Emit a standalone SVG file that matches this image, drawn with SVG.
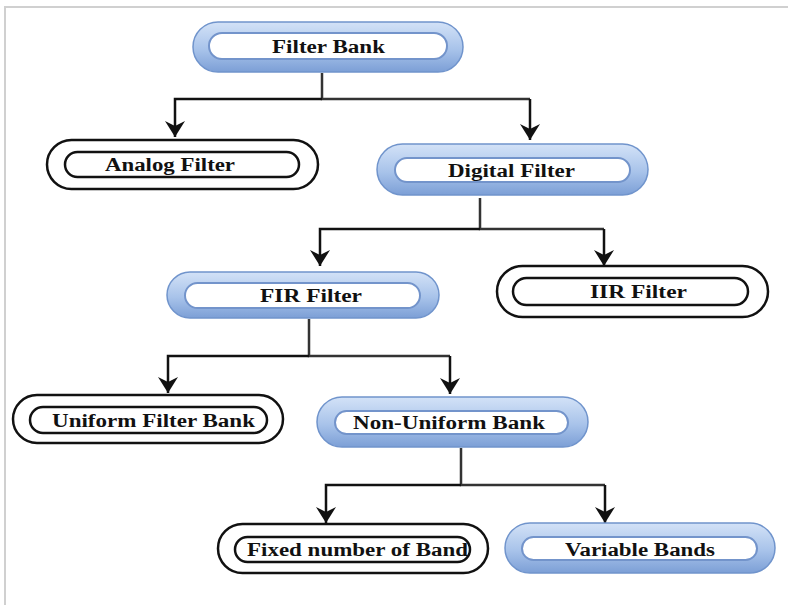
<svg xmlns="http://www.w3.org/2000/svg" width="788" height="605" viewBox="0 0 788 605">
  <defs>
    <linearGradient id="blueFill" x1="0" y1="0" x2="0" y2="1">
      <stop offset="0" stop-color="#d3e2f7"/>
      <stop offset="0.55" stop-color="#a8c3ea"/>
      <stop offset="1" stop-color="#7c9fd6"/>
    </linearGradient>
    <!-- arrowhead drawn pointing along +x so orient="auto" follows the line -->
    <marker id="arrow" markerWidth="17" markerHeight="20" refX="16" refY="10" orient="auto" markerUnits="userSpaceOnUse" viewBox="0 0 17 20">
      <path d="M16 10 L0 0 L5 10 L0 20 Z" fill="#111"/>
    </marker>
    <style>
      .frame { stroke: #d0d0d0; stroke-width: 2; fill: none; }
      .outerBlue { fill: url(#blueFill); stroke: #7094cc; stroke-width: 1.5; }
      .innerBlue { fill: #ffffff; stroke: #7394cb; stroke-width: 2; }
      .outerBlack { fill: #ffffff; stroke: #111; stroke-width: 2.5; }
      .innerBlack { fill: #ffffff; stroke: #111; stroke-width: 2.5; }
      .label { font-family: "Liberation Serif", "Times New Roman", serif; font-weight: bold; font-size: 18.5px; fill: #111; text-anchor: middle; }
      .wire { fill: none; stroke: #333; stroke-width: 2.5; }
      .drop { fill: none; stroke: #111; stroke-width: 2.5; marker-end: url(#arrow); }
    </style>
  </defs>

  <rect width="788" height="605" fill="#ffffff"/>
  <!-- page frame (top and left edges) -->
  <path class="frame" d="M5 605 V7 H788"/>

  <!-- connectors -->
  <g id="connectors">
    <path class="wire" d="M322 73 V99 H530"/>
    <path class="drop" d="M322 99 H175 V137"/>
    <path class="drop" d="M530 99 V140"/>

    <path class="wire" d="M480 198 V229 H604"/>
    <path class="drop" d="M480 229 H320 V266"/>
    <path class="drop" d="M604 229 V266"/>

    <path class="wire" d="M309 319 V356 H450"/>
    <path class="drop" d="M309 356 H168 V393"/>
    <path class="drop" d="M450 356 V394"/>

    <path class="wire" d="M461 448 V485 H605"/>
    <path class="drop" d="M461 485 H326 V523"/>
    <path class="drop" d="M605 485 V523"/>
  </g>

  <!-- nodes -->
  <g id="filter-bank">
    <rect class="outerBlue" x="193" y="22" width="270" height="50" rx="25"/>
    <rect class="innerBlue" x="209" y="33" width="238" height="26" rx="13"/>
    <text class="label" x="328.5" y="53" textLength="113" lengthAdjust="spacingAndGlyphs">Filter Bank</text>
  </g>

  <g id="analog-filter">
    <rect class="outerBlack" x="47" y="140" width="271" height="49" rx="24.5"/>
    <rect class="innerBlack" x="65" y="152" width="234" height="25" rx="12.5"/>
    <text class="label" x="170" y="171" textLength="130" lengthAdjust="spacingAndGlyphs">Analog Filter</text>
  </g>

  <g id="digital-filter">
    <rect class="outerBlue" x="377" y="144" width="271" height="51" rx="25.5"/>
    <rect class="innerBlue" x="395" y="158" width="235" height="24" rx="12"/>
    <text class="label" x="511.5" y="177" textLength="127" lengthAdjust="spacingAndGlyphs">Digital Filter</text>
  </g>

  <g id="fir-filter">
    <rect class="outerBlue" x="167" y="272" width="272" height="46" rx="23"/>
    <rect class="innerBlue" x="185" y="283" width="235" height="25" rx="12.5"/>
    <text class="label" x="311" y="302" textLength="102" lengthAdjust="spacingAndGlyphs">FIR Filter</text>
  </g>

  <g id="iir-filter">
    <rect class="outerBlack" x="497" y="266" width="271" height="51" rx="25.5"/>
    <rect class="innerBlack" x="513" y="278" width="235" height="27" rx="13.5"/>
    <text class="label" x="638.5" y="298" textLength="97" lengthAdjust="spacingAndGlyphs">IIR Filter</text>
  </g>

  <g id="uniform-filter-bank">
    <rect class="outerBlack" x="13" y="395" width="270" height="48" rx="24"/>
    <rect class="innerBlack" x="30" y="407" width="237" height="26" rx="13"/>
    <text class="label" x="153.5" y="427" textLength="203" lengthAdjust="spacingAndGlyphs">Uniform Filter Bank</text>
  </g>

  <g id="non-uniform-bank">
    <rect class="outerBlue" x="317" y="397" width="271" height="50" rx="25"/>
    <rect class="innerBlue" x="335" y="411" width="233" height="23" rx="11.5"/>
    <text class="label" x="449" y="429" textLength="192" lengthAdjust="spacingAndGlyphs">Non-Uniform Bank</text>
  </g>

  <g id="fixed-number-of-band">
    <rect class="outerBlack" x="218" y="524" width="270" height="49" rx="24.5"/>
    <rect class="innerBlack" x="235" y="537" width="235" height="25" rx="12.5"/>
    <text class="label" x="357.5" y="556" textLength="221" lengthAdjust="spacingAndGlyphs">Fixed number of Band</text>
  </g>

  <g id="variable-bands">
    <rect class="outerBlue" x="505" y="523" width="270" height="50" rx="25"/>
    <rect class="innerBlue" x="522" y="537" width="235" height="23" rx="11.5"/>
    <text class="label" x="640" y="556" textLength="150" lengthAdjust="spacingAndGlyphs">Variable Bands</text>
  </g>
</svg>
